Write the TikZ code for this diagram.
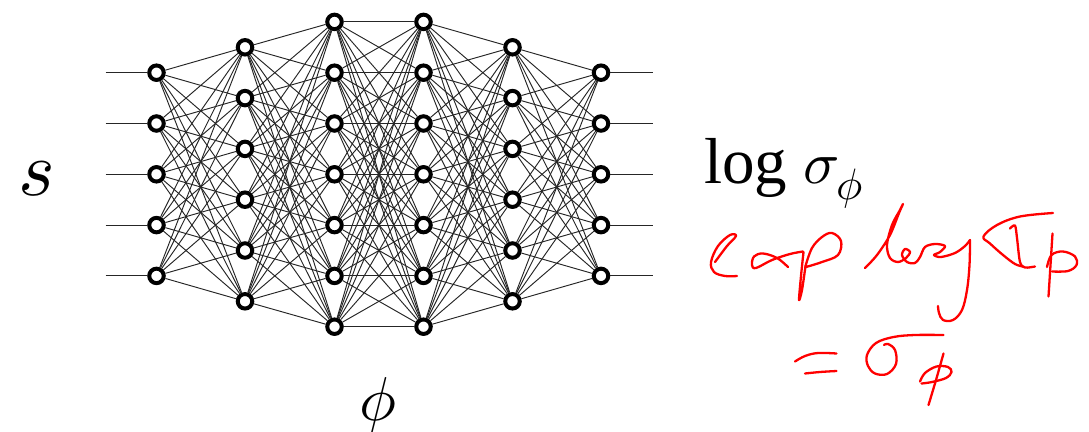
\documentclass[tikz,border=0pt]{standalone}
\usepackage{fontspec}
\usepackage{unicode-math}
\setmathfont{Latin Modern Math}
\newfontfamily\timesfont{Liberation Serif}
\newfontfamily\lmmath{Latin Modern Math}
\begin{document}
\begin{tikzpicture}[x=1pt,y=-1pt,
  neuron/.style={circle,draw=black,fill=white,line width=4pt,minimum size=14.5pt,inner sep=0pt},
  edge/.style={draw=black!85,line width=0.95pt},
  ink/.style={draw=red,line width=2.3pt,line cap=round,line join=round},
  lbl/.style={inner sep=0pt,anchor=base}]
\useasboundingbox (0,0) rectangle (1089,431);
% neurons
\foreach \L/\N/\X in {1/5/156.5, 2/6/245, 3/7/334.5, 4/7/423.5, 5/6/512.5, 6/5/601}{
  \foreach \i in {1,...,\N}{
    \node[neuron] (n\L-\i) at (\X,{174.3+(\i-(\N+1)/2)*50.8}) {};
  }
}
% input / output stubs
\foreach \i in {1,...,5}{
  \coordinate (in\i) at (105.7,{174.3+(\i-3)*50.8});
  \coordinate (out\i) at (652.7,{174.3+(\i-3)*50.8});
  \draw[edge] (in\i) -- (n1-\i);
  \draw[edge] (n6-\i) -- (out\i);
}
% connections
\foreach \a/\na/\b/\nb in {1/5/2/6, 2/6/3/7, 3/7/4/7, 4/7/5/6, 5/6/6/5}{
  \foreach \i in {1,...,\na}{
    \foreach \j in {1,...,\nb}{
      \draw[edge] (n\a-\i) -- (n\b-\j);
    }
  }
}
% labels
\node[lbl] (s) at (37,195) {\fontsize{78}{78}\selectfont\lmmath 𝑠};
\node[lbl] (phi) at (377.5,420) {\fontsize{62}{62}\selectfont\lmmath 𝜙};
\node[lbl,anchor=base west] (logsig) at (704,183.3) {\fontsize{65}{65}\selectfont\timesfont log\hspace{16pt}\fontsize{60}{60}\selectfont\lmmath 𝜎\hspace{-1pt}\raisebox{-16pt}{\fontsize{44}{44}\selectfont\lmmath 𝜙}};
% handwriting: exp log sigma_phi
\draw[ink] plot[smooth,tension=0.6] coordinates {(715,262) (727,246) (736,236) (730,235) (718,246) (711,262) (714,272) (725,276) (737,276)};
\draw[ink] plot[smooth,tension=0.6] coordinates {(788,267) (777,258) (763,253.5) (754,256.5) (752,265) (756,268) (772,260) (790,254) (803,251.5)};
\draw[ink] plot[smooth,tension=0.5] coordinates {(803.5,252) (801,276) (799,300) (802,290) (805.5,266)};
\draw[ink] plot[smooth,tension=0.6] coordinates {(805.5,266) (812,248) (822,237) (832,233) (841,241) (838,255) (822,262) (806,267)};
\draw[ink] plot[smooth,tension=0.55] coordinates {(865,268) (877,255) (890,235) (899,213) (903,204) (900,210) (892,225) (887,245) (890,258) (898,262) (906,258) (910,252) (905,249) (902,255) (907,262) (915,263) (920,257) (925,247) (935,244) (945,246) (940,252) (934,255) (941,257) (955,253) (965,246) (970,240)};
\draw[ink] plot[smooth,tension=0.6] coordinates {(970,240) (969.5,265) (967,290) (962,310) (953,320) (943,320) (939,313) (938,306)};
\draw[ink] plot[smooth,tension=0.6] coordinates {(1053,213) (1020,216.5) (997,225) (983.5,236.5) (990,243.5) (1003,255) (1015,264) (1023,266.5)};
\draw[ink] plot[smooth,tension=0.5] coordinates {(1010,228.5) (1015,225.5) (1017,238) (1020,262) (1025,267.5) (1035,266.5)};
\draw[ink] plot[smooth,tension=0.5] coordinates {(1052.5,233.5) (1050.5,265) (1048.5,296.5)};
\draw[ink] plot[smooth,tension=0.6] coordinates {(1047,267) (1051.5,255) (1063,251.5) (1075,256.5) (1076.5,265) (1068,271) (1052,271.5)};
% handwriting: = sigma_phi
\draw[ink] plot[smooth,tension=0.6] coordinates {(795,361.5) (805,356) (818,353) (836.5,353.5)};
\draw[ink] plot[smooth,tension=0.6] coordinates {(805,373.5) (820,372) (836.5,371)};
\draw[ink] plot[smooth,tension=0.6] coordinates {(943.5,335) (915,335) (893.5,337) (876,343) (867,355) (868,366) (875,373.5) (887,374) (896,364) (895,350) (888,344) (884,345)};
\draw[ink] plot[smooth,tension=0.5] coordinates {(943.5,353.5) (936,380) (928.5,405)};
\draw[ink] plot[smooth,tension=0.6] coordinates {(920,381.5) (925,373) (936.5,366.5) (948,367) (951.5,372) (946,378) (932,382) (921.5,383.5)};
\end{tikzpicture}
\end{document}
